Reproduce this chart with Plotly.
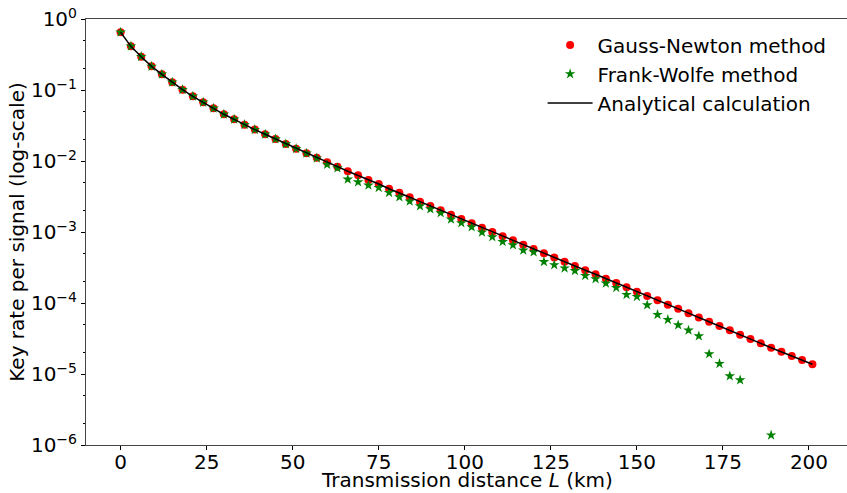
import plotly.graph_objects as go

# Transmission distance (km)
distance = [0, 3, 6, 9, 12, 15, 18, 21, 24, 27, 30, 33, 36, 39, 42, 45, 48, 51, 54, 57,
            60, 63, 66, 69, 72, 75, 78, 81, 84, 87, 90, 93, 96, 99, 102, 105, 108, 111,
            114, 117, 120, 123, 126, 129, 132, 135, 138, 141, 144, 147, 150, 153, 156,
            159, 162, 165, 168, 171, 174, 177, 180, 183, 186, 189, 192, 195, 198, 201]

# log10 of key rate, Gauss-Newton / analytical
gauss_newton_log = [-0.187, -0.385, -0.531, -0.667, -0.779, -0.892, -0.995, -1.089, -1.174,
                    -1.258, -1.342, -1.413, -1.488, -1.558, -1.624, -1.690, -1.761, -1.827,
                    -1.892, -1.954, -2.018, -2.080, -2.145, -2.201, -2.268, -2.324, -2.390,
                    -2.446, -2.511, -2.573, -2.634, -2.694, -2.756, -2.817, -2.877, -2.939,
                    -3.000, -3.061, -3.117, -3.179, -3.239, -3.300, -3.358, -3.418, -3.479,
                    -3.539, -3.596, -3.658, -3.718, -3.779, -3.841, -3.901, -3.962, -4.024,
                    -4.082, -4.143, -4.204, -4.263, -4.324, -4.385, -4.446, -4.507, -4.568,
                    -4.630, -4.686, -4.746, -4.803, -4.863]
analytical_log = list(gauss_newton_log)

# Frank-Wolfe points
fw_distance = [0, 3, 6, 9, 12, 15, 18, 21, 24, 27, 30, 33, 36, 39, 42, 45, 48, 51, 54, 57,
               60, 63, 66, 69, 72, 75, 78, 81, 84, 87, 90, 93, 96, 99, 102, 105, 108, 111,
               114, 117, 120, 123, 126, 129, 132, 135, 138, 141, 144, 147, 150, 153, 156,
               159, 162, 165, 168, 171, 174, 177, 180, 189]
fw_log = [-0.187, -0.385, -0.531, -0.667, -0.779, -0.892, -0.995, -1.089, -1.174,
          -1.258, -1.342, -1.413, -1.488, -1.558, -1.624, -1.690, -1.761, -1.827,
          -1.892, -1.960, -2.050, -2.099, -2.258, -2.296, -2.342, -2.376, -2.446,
          -2.507, -2.568, -2.634, -2.676, -2.732, -2.821, -2.873, -2.930, -3.004,
          -3.070, -3.137, -3.183, -3.258, -3.282, -3.420, -3.463, -3.509, -3.547,
          -3.615, -3.660, -3.723, -3.785, -3.883, -3.911, -4.028, -4.165, -4.235,
          -4.310, -4.385, -4.465, -4.718, -4.855, -5.028, -5.085, -5.862]

gauss_newton = [10 ** v for v in gauss_newton_log]
analytical = [10 ** v for v in analytical_log]
frank_wolfe = [10 ** v for v in fw_log]

y_tickvals = [1e-6, 1e-5, 1e-4, 1e-3, 1e-2, 1e-1, 1]
y_ticktext = ["10<sup>\u22126</sup>", "10<sup>\u22125</sup>", "10<sup>\u22124</sup>",
              "10<sup>\u22123</sup>", "10<sup>\u22122</sup>", "10<sup>\u22121</sup>",
              "10<sup>0</sup>"]
x_tickvals = [0, 25, 50, 75, 100, 125, 150, 175, 200]
x_title = "Transmission distance <i>L</i> (km)"
y_title = "Key rate per signal (log-scale)"

FONT = "DejaVu Sans"
FS = 20

fig = go.Figure()
fig.add_trace(go.Scatter(
    x=distance, y=gauss_newton, mode="markers", name="Gauss-Newton method",
    marker=dict(color="#ff0000", size=8, line=dict(width=0)), legendgroup="a"))
fig.add_trace(go.Scatter(
    x=fw_distance, y=frank_wolfe, mode="markers", name="Frank-Wolfe method",
    marker=dict(color="#008000", size=8, symbol="star", line=dict(width=0)), legendgroup="b"))
fig.add_trace(go.Scatter(
    x=distance, y=analytical, mode="lines", name="Analytical calculation",
    line=dict(color="black", width=1.5), legendgroup="c"))

fig.update_layout(
    width=847, height=493,
    margin=dict(l=86, r=0, t=19, b=48),
    paper_bgcolor="white", plot_bgcolor="white",
    font=dict(family=FONT, size=FS, color="black"),
    showlegend=True,
    legend=dict(x=0.6, y=0.985, xanchor="left", yanchor="top",
                bgcolor="rgba(0,0,0,0)", borderwidth=0,
                font=dict(family=FONT, size=FS), tracegroupgap=0,
                itemwidth=45),
    xaxis=dict(
        range=[-10.05, 211.05], tickvals=x_tickvals, automargin=False,
        showline=True, linecolor="#444", linewidth=1, mirror=True,
        ticks="outside", ticklen=4, tickcolor="black", showgrid=False, zeroline=False,
        tickfont=dict(size=FS), ticklabelstandoff=-5),
    yaxis=dict(
        type="log", range=[-6, 0], tickvals=y_tickvals, ticktext=y_ticktext, automargin=False,
        showline=True, linecolor="#444", linewidth=1, mirror=False,
        ticks="outside", ticklen=4, tickcolor="black", showgrid=False, zeroline=False,
        tickfont=dict(size=FS),
        minor=dict(ticks="outside", ticklen=2, tickcolor="black", showgrid=False),
        title=dict(text=y_title, font=dict(size=FS), standoff=0)),
    annotations=[dict(text=x_title, xref="paper", yref="paper", x=0.5, y=-0.1127,
                      xanchor="center", yanchor="bottom", showarrow=False, borderpad=0,
                      font=dict(family=FONT, size=FS, color="black"))],
)

fig.write_html("out.html", config={"displayModeBar": False},
               post_script="document.body.style.margin='0';")
